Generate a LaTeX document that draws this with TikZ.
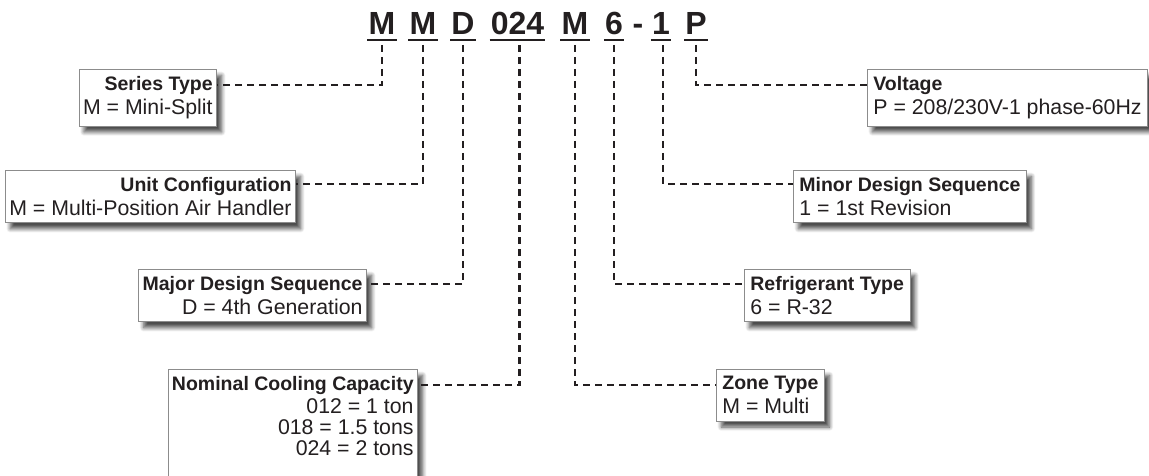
\documentclass[tikz,border=0pt]{standalone}
\usepackage{fontspec}
\setmainfont{Liberation Sans}
\usetikzlibrary{shadows.blur}
\definecolor{ink}{HTML}{231F20}
\definecolor{rim}{HTML}{8C8C8C}
\newcommand{\hd}[1]{{\fontsize{19.5}{24}\selectfont\bfseries #1}}
\tikzset{
  code/.style={anchor=base, inner sep=0pt, text=ink, font=\fontsize{32}{32}\selectfont\bfseries},
  uline/.style={line width=2.6pt, ink},
  lead/.style={line width=2.2pt, ink, dash pattern=on 7pt off 5pt},
  infobox/.style={draw=rim, line width=0.8pt, fill=white, text=ink, inner ysep=7pt,
    font=\fontsize{21.3}{24}\selectfont,
    blur shadow={shadow xshift=5pt, shadow yshift=-6pt, shadow blur radius=4pt, shadow blur steps=8, shadow opacity=70}},
  leftbox/.style={infobox, inner xsep=4pt, anchor=north east, align=right},
  rightbox/.style={infobox, inner xsep=6pt, anchor=north west, align=left}
}
\begin{document}
\begin{tikzpicture}[x=1pt, y=-1pt]
                \useasboundingbox (0.000000,0.000000) rectangle (1149.000000,476.000000);
                \clip (0.000000,0.000000) rectangle (1149.000000,476.000000);

                % Marking model code letters
                \node[code] (tM1) at (382.000000,35.000000) {M};
                \node[code] (tM2) at (423.000000,35.000000) {M};
                \node[code] (tD) at (463.000000,35.000000) {D};
                \node[code] (tCap) at (517.500000,35.000000) {024};
                \node[code] (tM3) at (575.000000,35.000000) {M};
                \node[code] (tSix) at (614.000000,35.000000) {6};
                \node[code] (tDash) at (638.000000,35.000000) {-};
                \node[code] (tOne) at (661.000000,35.000000) {1};
                \node[code] (tP) at (696.000000,35.000000) {P};

                % Underlining code letters
                \foreach \t in {tM1,tM2,tD,tCap,tM3,tSix,tOne,tP}
                  \draw[uline] ([xshift=-1pt,yshift=-5pt]\t.base west) -- ([xshift=1pt,yshift=-5pt]\t.base east);

                % Marking boxes on the left
                \node[leftbox] (series) at (217.000000,69.000000) {\hd{Series Type}\\M = Mini-Split};
                \node[leftbox] (unit) at (296.000000,170.000000) {\hd{Unit Configuration}\\M = Multi-Position Air Handler};
                \node[leftbox] (major) at (367.000000,269.000000) {\hd{Major Design Sequence}\\D = 4th Generation};
                \node[leftbox] (nominal) at (418.000000,369.000000) {\hd{Nominal Cooling Capacity}\\[-1pt]012 = 1 ton\\[-3pt]018 = 1.5 tons\\[-3pt]024 = 2 tons\\[14pt]\mbox{}};

                % Marking boxes on the right
                \node[rightbox] (zone) at (716.000000,369.000000) {\hd{Zone Type}\\M = Multi};
                \node[rightbox] (refrig) at (744.000000,269.000000) {\hd{Refrigerant Type}\\6 = R-32};
                \node[rightbox] (minor) at (793.000000,170.000000) {\hd{Minor Design Sequence}\\1 = 1st Revision};
                \node[rightbox] (volt) at (867.000000,69.000000) {\hd{Voltage}\\P = 208/230V-1 phase-60Hz};

                % Drawing leaders to the left
                \draw[lead] ([yshift=-10pt]tM1.base) |- ([yshift=-16pt]series.north east);
                \draw[lead] ([yshift=-10pt]tM2.base) |- ([yshift=-14pt]unit.north east);
                \draw[lead] ([yshift=-10pt]tD.base) |- ([yshift=-15pt]major.north east);
                \draw[lead] ([xshift=2pt,yshift=-10pt]tCap.base) |- ([yshift=-16pt]nominal.north east);

                % Drawing leaders to the right
                \draw[lead] ([yshift=-10pt]tM3.base) |- ([yshift=-16pt]zone.north west);
                \draw[lead] ([yshift=-10pt]tSix.base) |- ([yshift=-15pt]refrig.north west);
                \draw[lead] ([xshift=2pt,yshift=-10pt]tOne.base) |- ([yshift=-14pt]minor.north west);
                \draw[lead] ([yshift=-10pt]tP.base) |- ([yshift=-16pt]volt.north west);
\end{tikzpicture}
\end{document}
